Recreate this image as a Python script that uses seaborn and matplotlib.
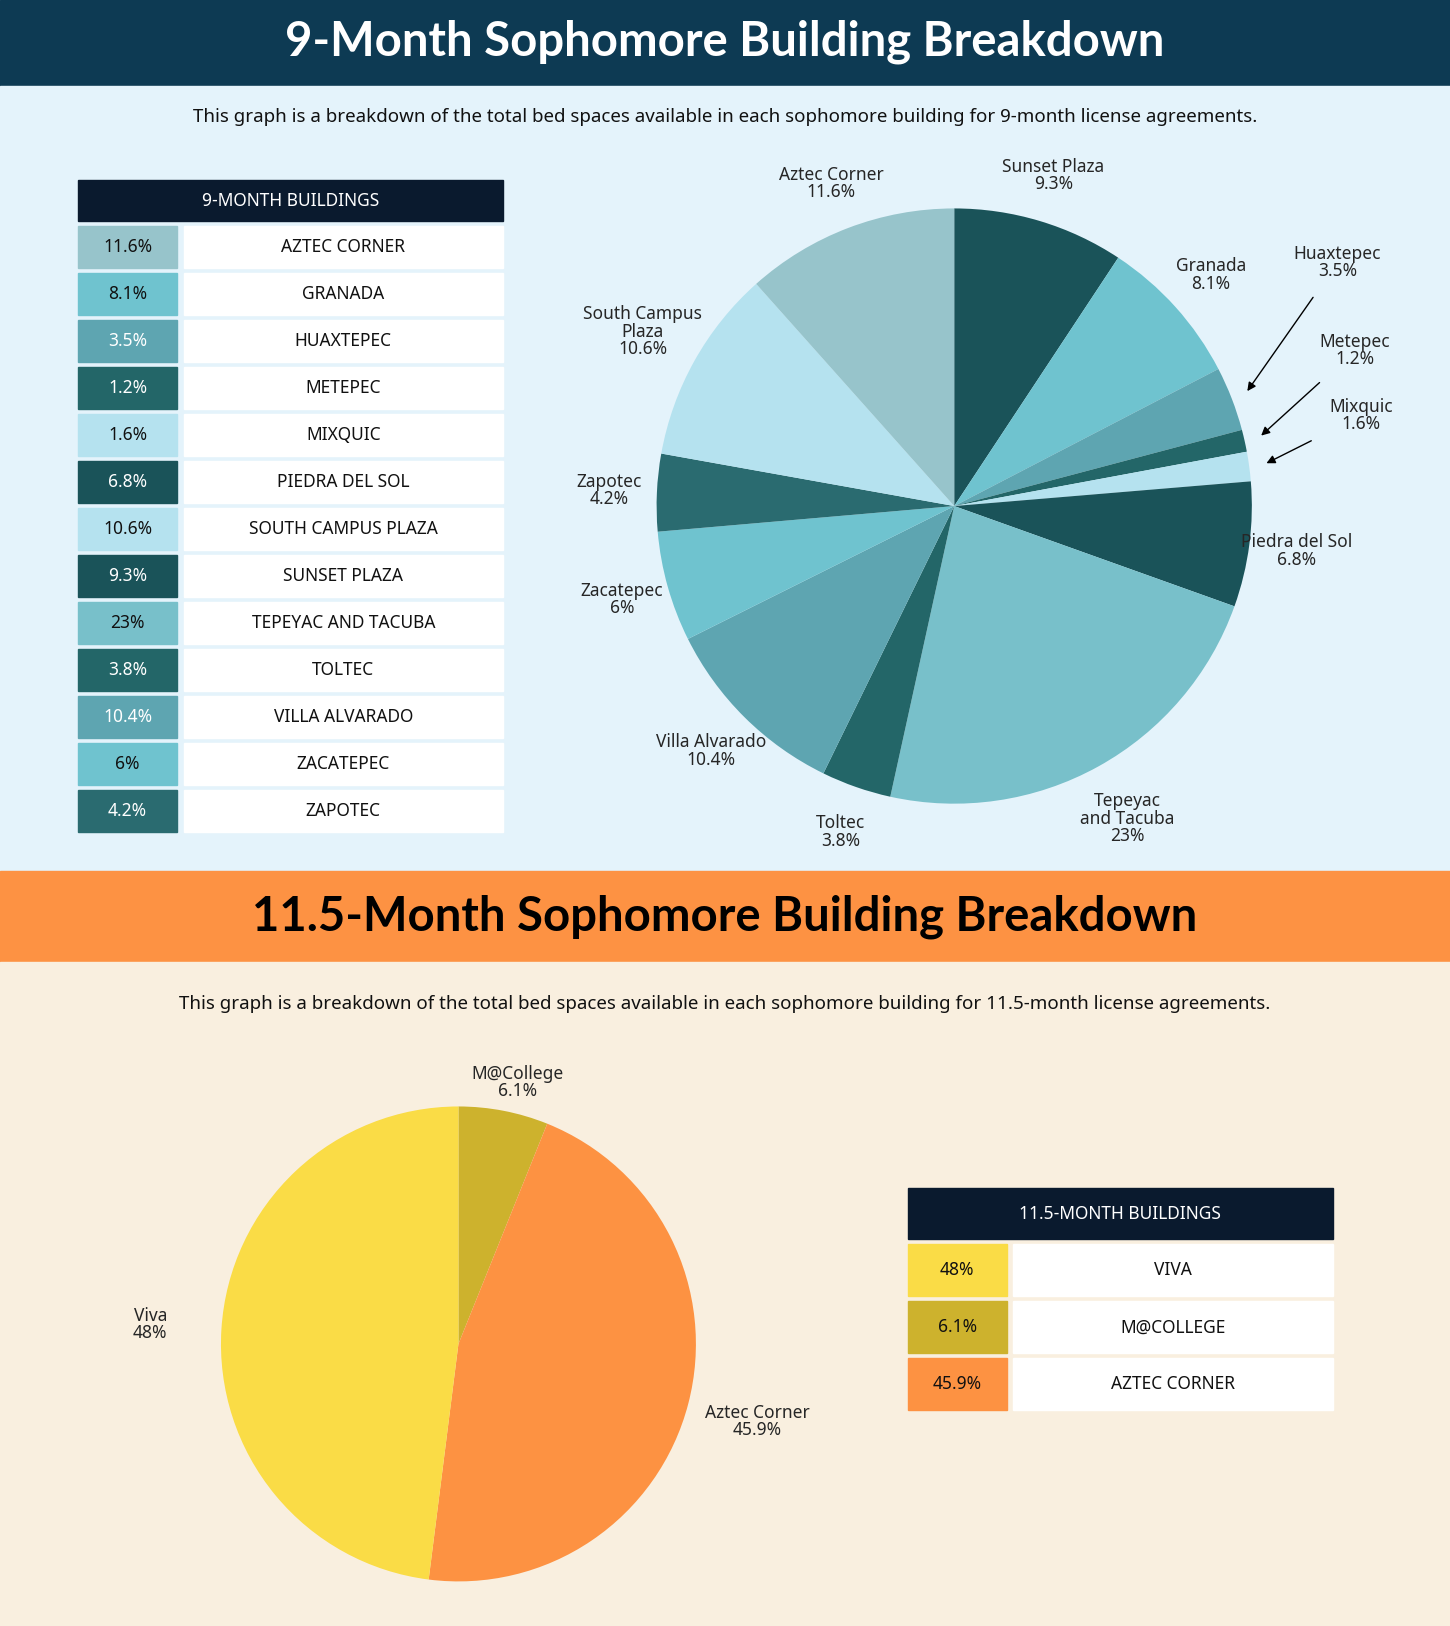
import matplotlib
matplotlib.use("Agg")
import matplotlib.pyplot as plt
import numpy as np
import seaborn as sns
from matplotlib.patches import Rectangle

sns.set_theme(style="white")

# data: 9-month, in clockwise order from 12 o'clock
names_9 = ["Sunset Plaza", "Granada", "Huaxtepec", "Metepec", "Mixquic", "Piedra del Sol",
           "Tepeyac\nand Tacuba", "Toltec", "Villa Alvarado", "Zacatepec", "Zapotec",
           "South Campus\nPlaza", "Aztec Corner"]
pct_9 = [9.3, 8.1, 3.5, 1.2, 1.6, 6.8, 23, 3.8, 10.4, 6, 4.2, 10.6, 11.6]
colors_9 = ["#1a5359", "#6fc3cf", "#5ea5b1", "#236668", "#b5e2ef", "#1a5359", "#78c0ca",
            "#236668", "#5ea5b1", "#6fc3cf", "#2a6b70", "#b5e2ef", "#97c4cb"]

table_names_9 = ["AZTEC CORNER", "GRANADA", "HUAXTEPEC", "METEPEC", "MIXQUIC", "PIEDRA DEL SOL",
                 "SOUTH CAMPUS PLAZA", "SUNSET PLAZA", "TEPEYAC AND TACUBA", "TOLTEC",
                 "VILLA ALVARADO", "ZACATEPEC", "ZAPOTEC"]
table_pct_9 = ["11.6%", "8.1%", "3.5%", "1.2%", "1.6%", "6.8%", "10.6%", "9.3%", "23%",
               "3.8%", "10.4%", "6%", "4.2%"]
table_col_9 = ["#97c4cb", "#6fc3cf", "#5ea5b1", "#236668", "#b5e2ef", "#1a5359", "#b5e2ef",
               "#1a5359", "#78c0ca", "#236668", "#5ea5b1", "#6fc3cf", "#2a6b70"]

# data: 11.5-month
names_11 = ["M@College", "Aztec Corner", "Viva"]
pct_11 = [6.1, 45.9, 48]
colors_11 = ["#cdb22d", "#fd9242", "#fadc46"]
table_names_11 = ["VIVA", "M@COLLEGE", "AZTEC CORNER"]
table_pct_11 = ["48%", "6.1%", "45.9%"]
table_col_11 = ["#fadc46", "#cdb22d", "#fd9242"]

W, H = 1398, 1568
TF = "Lato"
BF = "Noto Sans"

fig = plt.figure(figsize=(14.5, 16.26), dpi=100)
bg = fig.add_axes([0, 0, 1, 1])
bg.set_xlim(0, W)
bg.set_ylim(H, 0)
bg.axis("off")

bg.add_patch(Rectangle((0, 0), W, 83, color="#0d3a53"))
bg.add_patch(Rectangle((0, 83), W, 757, color="#e4f3fb"))
bg.add_patch(Rectangle((0, 840), W, 88, color="#fd9243"))
bg.add_patch(Rectangle((0, 928), W, H - 928, color="#f9efdf"))

bg.text(W / 2, 40, "9-Month Sophomore Building Breakdown", color="white", fontsize=34,
        fontweight="bold", family=TF, ha="center", va="center")
bg.text(W / 2, 113, "This graph is a breakdown of the total bed spaces available in each sophomore building for 9-month license agreements.",
        fontsize=13.5, fontweight="bold", family=BF, ha="center", va="center", color="#111")
bg.text(W / 2, 884, "11.5-Month Sophomore Building Breakdown", color="black", fontsize=34,
        fontweight="bold", family=TF, ha="center", va="center")
bg.text(W / 2, 968, "This graph is a breakdown of the total bed spaces available in each sophomore building for 11.5-month license agreements.",
        fontsize=13.5, fontweight="bold", family=BF, ha="center", va="center", color="#111")


def draw_table(x0, y0, header, names, pcts, cols, hh, rh, gap):
    bg.add_patch(Rectangle((x0, y0), 410, hh, color="#0a1a2e"))
    bg.text(x0 + 205, y0 + hh / 2, header, color="white", fontsize=12.5, fontweight="bold",
            family=BF, ha="center", va="center")
    y = y0 + hh + gap
    for n, p, c in zip(names, pcts, cols):
        bg.add_patch(Rectangle((x0, y), 96, rh, color=c))
        bg.add_patch(Rectangle((x0 + 102, y), 308, rh, color="white"))
        dark = c in ("#1a5359", "#236668", "#2a6b70", "#5ea5b1")
        bg.text(x0 + 48, y + rh / 2, p, color="white" if dark else "#111", fontsize=12.5,
                family=BF, ha="center", va="center")
        bg.text(x0 + 256, y + rh / 2, n, color="#111", fontsize=12.5, fontweight="bold",
                family=BF, ha="center", va="center")
        y += rh + gap


draw_table(75, 174, "9-MONTH BUILDINGS", table_names_9, table_pct_9, table_col_9, 39, 40, 5.3)
draw_table(875, 1146, "11.5-MONTH BUILDINGS", table_names_11, table_pct_11, table_col_11, 49, 50, 5)


def pie_axes(cx, cy, r):
    return fig.add_axes([(cx - r) / W, 1 - (cy + r) / H, 2 * r / W, 2 * r / H])


def fmt(v):
    return f"{v:g}%"


# 9-month pie
ax1 = pie_axes(920, 488, 287)
wedges, _ = ax1.pie(pct_9, colors=colors_9, startangle=90, counterclock=False,
                    wedgeprops=dict(linewidth=0))
ax1.set_xlim(-1, 1)
ax1.set_ylim(-1, 1)
small = {"Huaxtepec": 0.32, "Metepec": 0.22, "Mixquic": 0.12}
for w, n, v in zip(wedges, names_9, pct_9):
    a = np.deg2rad((w.theta1 + w.theta2) / 2)
    label = f"{n}\n{fmt(v)}"
    if n in small:
        tx, ty = 1.38 * np.cos(a), 1.38 * np.sin(a) + small[n]
        ax1.annotate(label, xy=(1.05 * np.cos(a), 1.05 * np.sin(a)), xytext=(tx, ty),
                     fontsize=12.5, fontweight="bold", family=BF, ha="center", va="center",
                     linespacing=0.95, annotation_clip=False,
                     arrowprops=dict(arrowstyle="-|>", color="black", lw=1, shrinkA=12))
    else:
        d = 1.2 if "\n" in n else 1.16
        ax1.text(d * np.cos(a), d * np.sin(a), label, fontsize=12.5, fontweight="bold",
                 family=BF, ha="center", va="center", linespacing=0.95)

# 11.5-month pie
ax2 = pie_axes(442, 1296, 229)
wedges2, _ = ax2.pie(pct_11, colors=colors_11, startangle=90, counterclock=False,
                     wedgeprops=dict(linewidth=0))
ax2.set_xlim(-1, 1)
ax2.set_ylim(-1, 1)
for w, n, v in zip(wedges2, names_11, pct_11):
    a = np.deg2rad((w.theta1 + w.theta2) / 2)
    ax2.text(1.3 * np.cos(a), 1.3 * np.sin(a) if n != "M@College" else 1.1,
             f"{n}\n{fmt(v)}", fontsize=12.5, fontweight="bold", family=BF,
             ha="center", va="center", linespacing=0.95)

fig.savefig("out.png", dpi=100)
